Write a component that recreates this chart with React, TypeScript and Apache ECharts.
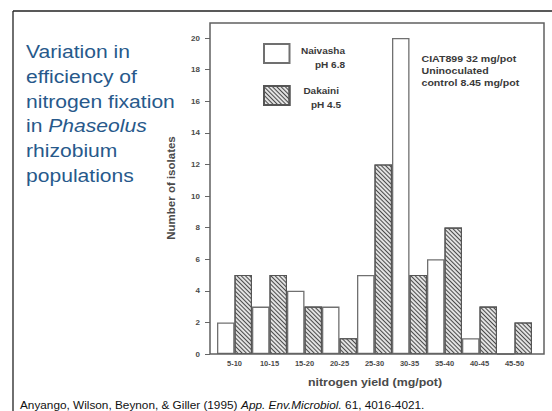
import React, { useEffect, useRef } from 'react';
import * as echarts from 'echarts';

// ---- data ----
const categories = ['5-10', '10-15', '15-20', '20-25', '25-30', '30-35', '35-40', '40-45', '45-50'];
const naivashaCounts = [2, 3, 4, 3, 5, 20, 6, 1, 0];
const dakainiCounts = [5, 5, 3, 1, 12, 5, 8, 3, 2];
const seriesNames = ['Naivasha', 'Dakaini'];
const yMin = 0;
const yMax = 20;
const yInterval = 2;

const titleLines = ['Variation in', 'efficiency of', 'nitrogen fixation', 'in {i|Phaseolus}', 'rhizobium', 'populations'];
const legendLabels = [['Naivasha', 'pH 6.8'], ['Dakaini', 'pH 4.5']];
const noteLines = ['CIAT899 32 mg/pot', 'Uninoculated', 'control 8.45 mg/pot'];
const xAxisTitle = 'nitrogen yield (mg/pot)';
const yAxisTitle = 'Number of isolates';
const citationStart = 'Anyango, Wilson, Beynon, & Giller (1995) ';
const citationJournal = 'App. Env.Microbiol.';
const citationEnd = ' 61, 4016-4021.';

export default function App() {
  const ref = useRef<HTMLDivElement>(null);

  useEffect(() => {
    const chart = echarts.init(ref.current!, null, { renderer: 'svg' });
    const FONT = '"Liberation Sans", Arial, Helvetica, sans-serif';
    const ink = '#3a3a3a';
    const SX = 1.18;

    const hatch: any = {
      symbol: 'rect',
      symbolSize: 1,
      dashArrayX: [1, 0],
      dashArrayY: [1, 2],
      rotation: Math.PI / 4,
      color: '#4a4a4a',
    };

    const option: any = {
      animation: false,
      backgroundColor: '#ffffff',
      grid: { left: 217, right: 20, top: 38, bottom: 57, containLabel: false },
      legend: {
        data: seriesNames,
        orient: 'vertical',
        left: 263,
        top: 43,
        padding: 0,
        itemWidth: 25.5,
        itemHeight: 19,
        itemGap: 21,
        icon: 'rect',
        selectedMode: false,
        formatter: () => '',
        textStyle: { fontSize: 4 },
      },
      xAxis: {
        type: 'category',
        data: categories,
        axisLine: { show: false },
        axisTick: { show: false },
        axisLabel: {
          interval: 0,
          margin: 5,
          fontFamily: FONT,
          fontSize: 7.5,
          fontWeight: 'bold',
          color: '#4a4a4a',
        },
        splitLine: { show: false },
      },
      yAxis: {
        type: 'value',
        min: yMin,
        max: yMax,
        interval: yInterval,
        offset: 7,
        axisLine: { show: false },
        axisTick: { show: true, length: 5, lineStyle: { color: '#666', width: 1 } },
        axisLabel: {
          margin: 10,
          fontFamily: FONT,
          fontSize: 8,
          fontWeight: 'bold',
          color: '#4a4a4a',
        },
        splitLine: { show: false },
      },
      series: [
        {
          name: seriesNames[0],
          type: 'bar',
          data: naivashaCounts,
          barGap: '0%',
          barCategoryGap: '0%',
          itemStyle: { color: '#ffffff', borderColor: '#707070', borderWidth: 1.3 },
          z: 2,
        },
        {
          name: seriesNames[1],
          type: 'bar',
          data: dakainiCounts,
          barGap: '0%',
          barCategoryGap: '0%',
          itemStyle: { color: '#e2e2e2', borderColor: '#555555', borderWidth: 1.1, decal: hatch },
          z: 3,
        },
      ],
      graphic: [
        // slide border
        { type: 'line', shape: { x1: 13, y1: 11, x2: 552, y2: 11 }, style: { stroke: '#222', lineWidth: 1.3 }, z: 10 },
        { type: 'line', shape: { x1: 13, y1: 11, x2: 13, y2: 411 }, style: { stroke: '#222', lineWidth: 1.3 }, z: 10 },
        // plot frame
        {
          type: 'rect',
          shape: { x: 210, y: 23, width: 334, height: 331 },
          style: { fill: 'none', stroke: '#606060', lineWidth: 1.5 },
          z: 10,
        },
        // title
        {
          type: 'text',
          x: 26,
          y: 39.5,
          scaleX: 1.14,
          style: {
            text: titleLines.join('\n'),
            fontFamily: FONT,
            fontSize: 18.5,
            lineHeight: 24.7,
            fill: '#27598b',
            align: 'left',
            verticalAlign: 'top',
            rich: {
              i: { fontFamily: FONT, fontSize: 18.5, lineHeight: 24.7, fontStyle: 'italic', fill: '#27598b' },
            },
          },
          z: 10,
        },
        // legend labels
        ...legendLabels.flatMap((pair, k) => {
          const top = [51.7, 91.7][k];
          const rights = [[345, 345], [339, 341]][k];
          return pair.map((t, j) => ({
            type: 'text',
            x: rights[j],
            y: top + j * 14,
            scaleX: SX,
            style: {
              text: t,
              fontFamily: FONT,
              fontSize: 8.5,
              fontWeight: 'bold',
              fill: ink,
              align: 'right',
              verticalAlign: 'middle',
            },
            z: 10,
          }));
        }),
        // note
        {
          type: 'text',
          x: 421.5,
          y: 52.3,
          scaleX: SX,
          style: {
            text: noteLines.join('\n'),
            fontFamily: FONT,
            fontSize: 9,
            fontWeight: 'bold',
            lineHeight: 12.4,
            fill: ink,
            align: 'left',
            verticalAlign: 'top',
          },
          z: 10,
        },
        // axis titles
        {
          type: 'text',
          x: 375,
          y: 382.5,
          scaleX: SX,
          style: {
            text: xAxisTitle,
            fontFamily: FONT,
            fontSize: 10.5,
            fontWeight: 'bold',
            fill: '#4a4a4a',
            align: 'center',
            verticalAlign: 'middle',
          },
          z: 10,
        },
        {
          type: 'text',
          x: 171,
          y: 188,
          rotation: Math.PI / 2,
          style: {
            text: yAxisTitle,
            fontFamily: FONT,
            fontSize: 11.5,
            fontWeight: 'bold',
            fill: '#4a4a4a',
            align: 'center',
            verticalAlign: 'middle',
          },
          z: 10,
        },
        // citation
        {
          type: 'text',
          x: 20,
          y: 405.5,
          scaleX: SX,
          style: {
            text: citationStart + '{i|' + citationJournal + '}' + citationEnd,
            fontFamily: FONT,
            fontSize: 10,
            fill: '#111',
            align: 'left',
            verticalAlign: 'middle',
            rich: {
              i: { fontFamily: FONT, fontSize: 10, fontStyle: 'italic', fill: '#111' },
            },
          },
          z: 10,
        },
      ],
    };

    chart.setOption(option);
    return () => chart.dispose();
  }, []);

  return (
    <div
      ref={ref}
      style={{ position: 'fixed', left: 0, top: 0, width: 552, height: 411, background: '#ffffff' }}
    />
  );
}
